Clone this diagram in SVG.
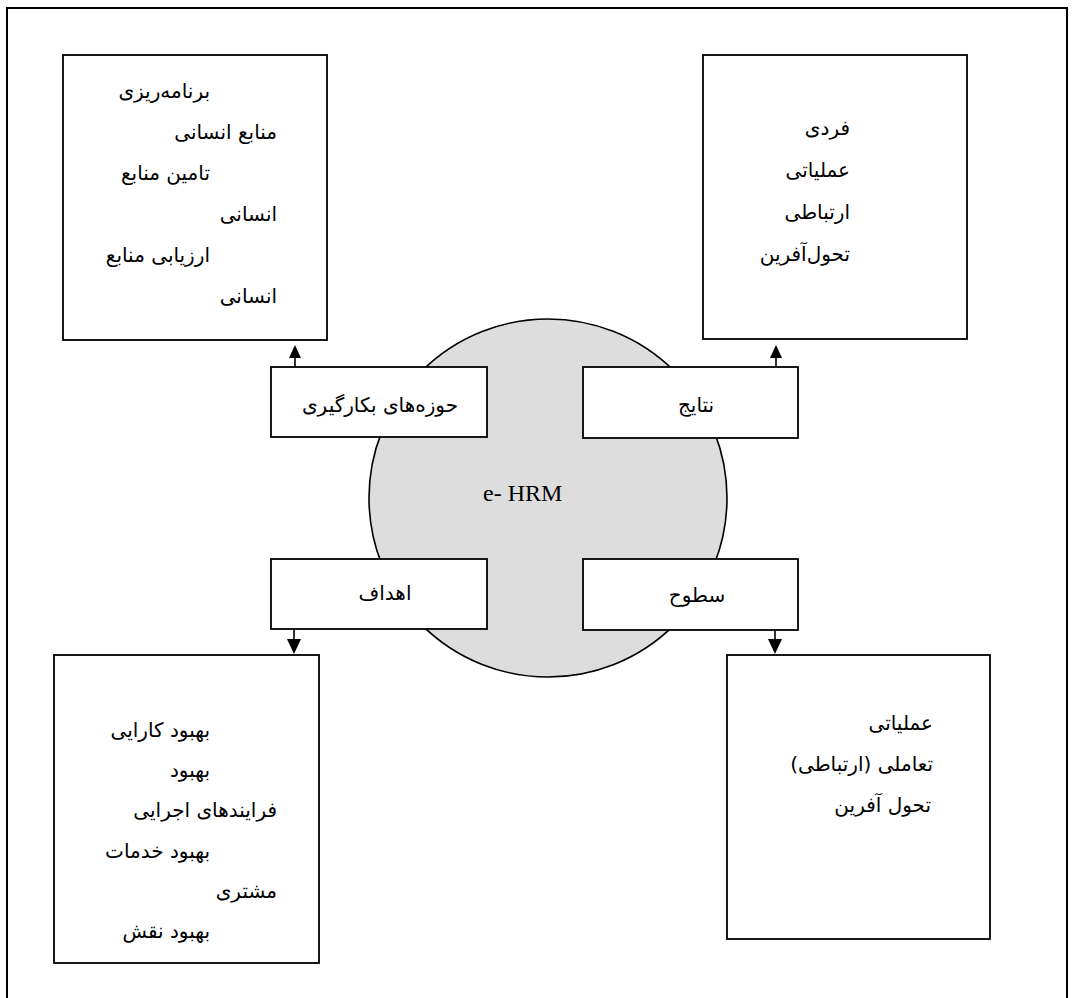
<svg xmlns="http://www.w3.org/2000/svg" width="1074" height="998" viewBox="0 0 1074 998">
<defs>
<style>
.frame{fill:none;stroke:#000;stroke-width:2}
.box{fill:#fff;stroke:#000;stroke-width:1.8}
.hub{fill:#dddddd;stroke:#000;stroke-width:1.6}
.fa{font-family:"DejaVu Sans","Noto Sans",sans-serif;font-size:20px;fill:#000}
.en{font-family:"Liberation Serif","Times New Roman",serif;font-size:24px;fill:#000}
.conn{stroke:#000;stroke-width:1.6;fill:none}
.ah{fill:#000}
</style>
</defs>
<rect width="1074" height="998" fill="#fff"/>
<path class="frame" d="M7,1010 V8 H1067 V1010"/>

<g id="hub">
<circle class="hub" cx="548" cy="498" r="179"/>
<text class="en" x="483" y="501">e- HRM</text>
</g>

<g id="connectors">
<line class="conn" x1="295" y1="367" x2="295" y2="355"/>
<polygon class="ah" points="295,345 289,358 301,358"/>
<line class="conn" x1="776" y1="367" x2="776" y2="355"/>
<polygon class="ah" points="776,345 770,358 782,358"/>
<line class="conn" x1="294" y1="629" x2="294" y2="642"/>
<polygon class="ah" points="294,654 287,639 301,639"/>
<line class="conn" x1="775" y1="630" x2="775" y2="642"/>
<polygon class="ah" points="775,654 768,639 782,639"/>
</g>

<g id="box-tl">
<rect class="box" x="63" y="55" width="264" height="285"/>
<g class="fa" direction="rtl" text-anchor="start">
<text x="210" y="98">برنامه‌ریزی</text>
<text x="277" y="139">منابع انسانی</text>
<text x="210" y="180">تامین منابع</text>
<text x="277" y="221">انسانی</text>
<text x="210" y="262">ارزیابی منابع</text>
<text x="277" y="303">انسانی</text>
</g>
</g>

<g id="box-tr">
<rect class="box" x="703" y="55" width="264" height="284"/>
<g class="fa" direction="rtl" text-anchor="start">
<text x="850" y="135">فردی</text>
<text x="850" y="177">عملیاتی</text>
<text x="850" y="219">ارتباطی</text>
<text x="850" y="261">تحول‌آفرین</text>
</g>
</g>

<g id="label-hoze">
<rect class="box" x="271" y="367" width="216" height="70"/>
<text class="fa" x="380" y="412" text-anchor="middle">حوزه‌های بکارگیری</text>
</g>

<g id="label-natayej">
<rect class="box" x="583" y="367" width="215" height="71"/>
<text class="fa" x="696" y="412" text-anchor="middle">نتایج</text>
</g>

<g id="label-ahdaf">
<rect class="box" x="271" y="559" width="216" height="70"/>
<text class="fa" x="385" y="600" text-anchor="middle">اهداف</text>
</g>

<g id="label-sotooh">
<rect class="box" x="583" y="559" width="215" height="71"/>
<text class="fa" x="697" y="602" text-anchor="middle">سطوح</text>
</g>

<g id="box-bl">
<rect class="box" x="54" y="655" width="265" height="308"/>
<g class="fa" direction="rtl" text-anchor="start">
<text x="210" y="737">بهبود کارایی</text>
<text x="210" y="777">بهبود</text>
<text x="277" y="817">فرایندهای اجرایی</text>
<text x="210" y="858">بهبود خدمات</text>
<text x="277" y="898">مشتری</text>
<text x="210" y="938">بهبود نقش</text>
</g>
</g>

<g id="box-br">
<rect class="box" x="727" y="655" width="263" height="284"/>
<g class="fa" direction="rtl" text-anchor="start">
<text x="933" y="730">عملیاتی</text>
<text x="933" y="771">تعاملی (ارتباطی)</text>
<text x="931" y="812">تحول آفرین</text>
</g>
</g>
</svg>
